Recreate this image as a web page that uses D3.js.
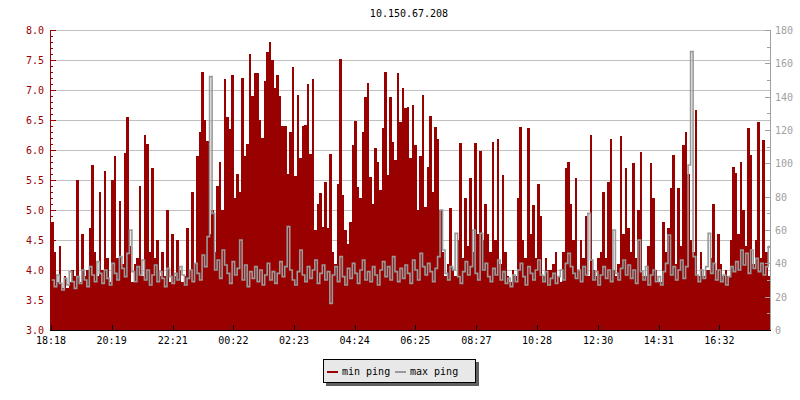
<!DOCTYPE html>
<html><head><meta charset="utf-8">
<script src="https://cdn.jsdelivr.net/npm/d3@7"></script>
<style>
body{margin:0;background:#fff}
svg{display:block}
text{font-family:"DejaVu Sans Mono",monospace;font-size:10px}
</style>
</head><body>
<svg id="chart" width="800" height="400"></svg>
<script>
const chartTitle = "10.150.67.208";
const startTime = "18:18";
const sampleMinutes = 5;
const seriesNames = ["min ping", "max ping"];
const xTickLabels = ["18:18","20:19","22:21","00:22","02:23","04:24","06:25","08:27","10:28","12:30","14:31","16:32"];
const leftDomain = [3, 8];
const rightDomain = [0, 180];

// min ping (left axis)
const minPing = [
4.8,4.3,3.8,4.4,3.7,3.9,3.7,3.8,4.0,3.9,
5.5,3.8,4.6,3.9,4.0,4.7,5.75,4.3,3.9,5.3,
4.0,5.65,4.2,3.8,5.5,5.9,4.2,5.15,4.1,5.95,
6.55,4.4,3.8,4.1,4.2,5.4,3.9,6.25,6.1,4.3,
5.7,4.2,4.5,3.9,4.3,3.9,5.0,3.8,4.6,3.9,
4.5,4.0,3.8,3.9,4.7,4.0,5.3,4.1,5.9,6.3,
7.3,6.5,6.15,4.6,5.0,4.3,5.4,5.8,5.0,7.18,
6.55,6.35,7.25,5.2,5.6,5.3,7.2,5.9,6.1,7.6,
6.9,7.28,7.28,6.5,6.2,7.15,7.64,7.8,7.5,7.03,
7.25,6.9,6.4,6.4,5.6,6.3,7.39,5.56,6.92,5.86,
6.4,6.42,7.1,5.94,7.19,4.67,5.1,5.28,4.72,5.47,
4.7,5.94,4.3,4.1,5.44,7.51,5.25,4.67,4.44,4.8,
6.08,6.49,5.39,5.2,6.3,6.89,7.11,5.55,5.1,6.03,
5.8,5.33,6.36,7.3,5.58,6.89,6.14,5.83,7.28,6.47,
7.03,6.7,6.72,5.86,6.75,6.08,5.0,5.9,6.92,5.05,
5.72,6.57,5.3,6.39,6.19,5.0,4.3,3.9,4.1,5.03,
4.0,3.9,4.5,6.11,4.2,5.2,4.4,5.53,4.3,6.11,
4.6,5.99,4.5,5.1,4.6,4.3,6.14,4.5,6.19,4.1,
5.58,4.3,3.9,3.8,4.0,3.9,5.2,6.39,4.5,4.2,
6.36,4.6,5.08,4.2,5.43,4.9,3.9,4.2,4.0,4.0,
4.1,4.3,3.9,3.8,4.3,5.7,5.8,5.1,4.5,5.53,
4.0,4.5,4.2,4.9,3.9,6.25,4.0,3.9,4.2,4.3,
5.3,4.2,5.47,6.19,4.0,3.9,4.1,6.23,4.6,5.7,
4.7,4.3,5.78,4.2,5.0,5.97,3.9,3.9,4.4,5.78,
5.2,4.0,3.8,3.8,4.8,4.3,4.7,5.36,5.92,4.1,
5.36,4.4,6.08,6.3,5.6,4.5,4.3,6.67,3.9,4.3,
3.9,4.0,4.0,4.2,5.1,4.0,4.6,4.1,3.9,4.0,
3.9,4.5,5.72,5.61,4.6,5.8,5.0,4.4,6.36,5.92,
4.1,4.5,6.47,4.2,6.17,4.3,3.9
];

// max ping (right axis)
const maxPing = [
30,26,33,28,24,31,27,35,29,25,
32,28,36,30,26,38,33,29,41,34,
28,36,31,27,40,34,30,44,37,32,
46,60,35,29,38,33,42,30,36,27,
33,39,29,35,31,26,37,32,28,34,
30,38,33,27,31,36,29,40,34,30,
45,38,56,152,70,36,42,31,48,39,
34,28,41,33,37,54,30,39,26,35,
31,38,29,36,27,33,40,30,35,28,
34,41,32,38,62,36,30,27,35,48,
33,29,38,31,36,42,28,34,39,30,
35,16,33,38,29,44,32,27,37,31,
40,34,28,36,42,30,35,29,38,33,
27,36,41,32,38,30,44,35,29,37,
31,39,34,28,42,36,30,46,38,33,
40,35,29,37,44,72,48,34,30,38,
36,58,32,28,35,41,33,38,60,34,
30,58,36,40,32,29,37,33,42,30,
35,28,31,26,33,29,36,40,32,27,
38,34,30,36,42,33,29,35,27,31,
34,28,32,36,30,40,46,38,34,31,
36,29,38,33,70,42,30,35,27,33,
38,31,36,29,60,34,30,37,42,33,
39,31,36,28,54,35,30,38,27,33,
36,29,32,27,35,40,57,33,38,30,
36,42,31,38,99,167,44,33,29,36,
31,38,58,34,40,30,36,29,33,27,
32,38,35,41,36,48,39,46,34,48,
37,43,35,40,33,38,50
];

const RED = "#990000", GRAY = "#999999", GRID = "#c0c0c0", RAXIS = "#a0a0a0";
const svg = d3.select("#chart");
const plotLeft = 51, plotRight = 770, plotTop = 30, plotBottom = 330;

const toMin = s => { const [h, m] = s.split(":").map(Number); return h * 60 + m; };
const t0 = toMin(startTime);
const offsetOf = s => { let d = toMin(s) - t0; if (d < 0) d += 1440; return d; };

const N = minPing.length;
const x = d3.scaleLinear().domain([0, N * sampleMinutes]).range([plotLeft, plotRight]);
const y = d3.scaleLinear().domain(leftDomain).range([plotBottom, plotTop]);
const y2 = d3.scaleLinear().domain(rightDomain).range([plotBottom, plotTop]);

// gridlines
const gridVals = d3.range(3.5, 8.001, 0.5);
svg.append("g").attr("shape-rendering", "crispEdges").selectAll("line").data(gridVals).join("line")
  .attr("x1", plotLeft).attr("x2", plotRight)
  .attr("y1", d => Math.round(y(d)) + 0.5).attr("y2", d => Math.round(y(d)) + 0.5)
  .attr("stroke", GRID).attr("stroke-width", 1);

// min ping bars
svg.append("g").attr("shape-rendering", "crispEdges").selectAll("rect").data(minPing).join("rect")
  .attr("x", (d, i) => x(i * sampleMinutes))
  .attr("width", (d, i) => x((i + 1) * sampleMinutes) - x(i * sampleMinutes) + 0.01)
  .attr("y", d => y(d))
  .attr("height", d => plotBottom - y(d))
  .attr("fill", RED);

// max ping step line
const pts = maxPing.map((d, i) => [x(i * sampleMinutes) + 0.75, y2(d)]);
pts.push([x(N * sampleMinutes), y2(maxPing[N - 1])]);
svg.append("path")
  .attr("d", d3.line().curve(d3.curveStepAfter)(pts))
  .attr("fill", "none").attr("stroke", GRAY).attr("stroke-width", 1.6);

// left axis
const gl = svg.append("g").attr("shape-rendering", "crispEdges");
gl.append("line").attr("x1", 50.5).attr("x2", 50.5).attr("y1", plotTop).attr("y2", plotBottom + 1).attr("stroke", RED);
const minorL = d3.range(30, 81, 1).map(v => v / 10);
gl.selectAll("line.t").data(minorL).join("line").attr("class", "t")
  .attr("x1", 50).attr("x2", (d, i) => i % 5 === 0 ? 56 : 53)
  .attr("y1", d => Math.round(y(d)) + 0.5).attr("y2", d => Math.round(y(d)) + 0.5)
  .attr("stroke", RED);
gl.selectAll("text").data(d3.range(3, 8.001, 0.5)).join("text")
  .attr("x", 44).attr("y", d => y(d) + 4)
  .attr("text-anchor", "end").attr("fill", RED)
  .text(d => d3.format(".1f")(d));

// right axis
const gr = svg.append("g").attr("shape-rendering", "crispEdges");
gr.append("line").attr("x1", 770.5).attr("x2", 770.5).attr("y1", plotTop).attr("y2", plotBottom + 1).attr("stroke", RAXIS);
gr.selectAll("line.t").data(d3.range(0, 181, 10)).join("line").attr("class", "t")
  .attr("x1", 771).attr("x2", d => d % 20 === 0 ? 765 : 767)
  .attr("y1", d => Math.round(y2(d)) + 0.5).attr("y2", d => Math.round(y2(d)) + 0.5)
  .attr("stroke", RAXIS);
gr.selectAll("text").data(d3.range(0, 181, 20)).join("text")
  .attr("x", 775).attr("y", d => y2(d) + 4)
  .attr("fill", RAXIS)
  .text(d => d);

// bottom axis
const gb = svg.append("g").attr("shape-rendering", "crispEdges");
gb.append("line").attr("x1", 50).attr("x2", 771).attr("y1", 330.5).attr("y2", 330.5).attr("stroke", "#000");
gb.selectAll("line.t").data(xTickLabels).join("line").attr("class", "t")
  .attr("x1", d => Math.round(x(offsetOf(d))) + 0.5).attr("x2", d => Math.round(x(offsetOf(d))) + 0.5)
  .attr("y1", 325).attr("y2", 331).attr("stroke", "#000");
gb.selectAll("text").data(xTickLabels).join("text")
  .attr("x", d => x(offsetOf(d))).attr("y", 344)
  .attr("text-anchor", "middle").attr("fill", "#000")
  .text(d => d);

// title
svg.append("text").attr("x", 409).attr("y", 17).attr("text-anchor", "middle").attr("fill", "#000").text(chartTitle);

// legend
const lg = svg.append("g").attr("shape-rendering", "crispEdges");
lg.append("rect").attr("x", 326).attr("y", 362).attr("width", 153).attr("height", 24).attr("fill", "#606060");
lg.append("rect").attr("x", 323.5).attr("y", 359.5).attr("width", 152).attr("height", 23).attr("fill", "#e8e8e8").attr("stroke", "#000");
const legendColors = [RED, GRAY];
const legendX = [327, 395];
seriesNames.forEach((name, i) => {
  lg.append("rect").attr("x", legendX[i]).attr("y", 371).attr("width", 11).attr("height", 2).attr("fill", legendColors[i]);
  lg.append("text").attr("x", legendX[i] + 15).attr("y", 375).attr("fill", "#000").text(name);
});
</script>
</body></html>
